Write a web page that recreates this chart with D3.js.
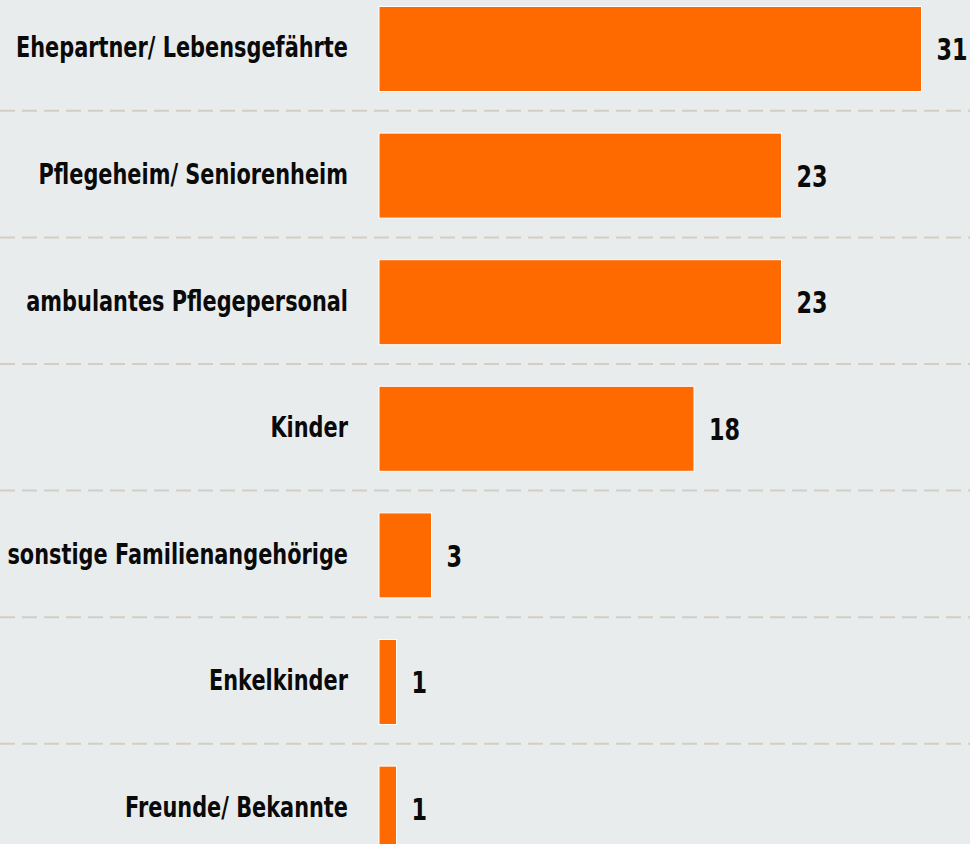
<!DOCTYPE html>
<html>
<head>
<meta charset="utf-8">
<script src="https://cdn.jsdelivr.net/npm/d3@7"></script>
<style>
  html, body { margin: 0; padding: 0; background: #e9eced; overflow: hidden; }
  svg { display: block; }
  .label, .value { font-family: "DejaVu Sans", sans-serif; font-weight: bold; fill: #0a0a0a; }
</style>
</head>
<body>
<script>
const categories = [
  'Ehepartner/ Lebensgefährte',
  'Pflegeheim/ Seniorenheim',
  'ambulantes Pflegepersonal',
  'Kinder',
  'sonstige Familienangehörige',
  'Enkelkinder',
  'Freunde/ Bekannte'
];
const values = [31, 23, 23, 18, 3, 1, 1];

const width = 970;
const height = 844;
const step = 126.6;
const gap = 41.6;

const data = categories.map((c, i) => ({name: c, value: values[i]}));

const svg = d3.select('body').append('svg')
  .attr('width', width)
  .attr('height', height);

svg.append('rect')
  .attr('width', width)
  .attr('height', height)
  .attr('fill', '#e9eced');

const x = d3.scaleLinear()
  .domain([0, 31])
  .range([379, 921.5]);

const top0 = -14.3;
const y = d3.scaleBand()
  .domain(categories)
  .range([top0, top0 + categories.length * step])
  .paddingInner(gap / step)
  .paddingOuter(gap / step / 2);

// dashed separators between rows
svg.append('g')
  .selectAll('line')
  .data(categories.slice(0, -1))
  .enter()
  .append('line')
  .attr('x1', 0)
  .attr('x2', width)
  .attr('y1', d => y(d) + y.bandwidth() + gap / 2 - 1.5)
  .attr('y2', d => y(d) + y.bandwidth() + gap / 2 - 1.5)
  .attr('stroke', '#d3cdc4')
  .attr('stroke-width', 2)
  .attr('stroke-dasharray', '15 7');

svg.append('g')
  .selectAll('rect')
  .data(data)
  .enter()
  .append('rect')
  .attr('x', x(0))
  .attr('y', d => y(d.name))
  .attr('width', d => x(d.value) - x(0))
  .attr('height', y.bandwidth())
  .attr('fill', '#ff6a00')
  .attr('stroke', '#fff')
  .attr('stroke-width', 1);

// the original font is narrow, so squeeze DejaVu horizontally
svg.append('g')
  .selectAll('text')
  .data(data)
  .enter()
  .append('text')
  .attr('class', 'label')
  .attr('transform', d => `translate(348, ${y(d.name) + y.bandwidth() / 2 - 2}) scale(0.72, 1)`)
  .attr('dy', '0.36em')
  .attr('text-anchor', 'end')
  .style('font-size', '29px')
  .text(d => d.name);

svg.append('g')
  .selectAll('text')
  .data(data)
  .enter()
  .append('text')
  .attr('class', 'value')
  .attr('transform', d => `translate(${x(d.value) + 15}, ${y(d.name) + y.bandwidth() / 2}) scale(0.72, 1)`)
  .attr('dy', '0.36em')
  .style('font-size', '31px')
  .text(d => d.value);
</script>
</body>
</html>
